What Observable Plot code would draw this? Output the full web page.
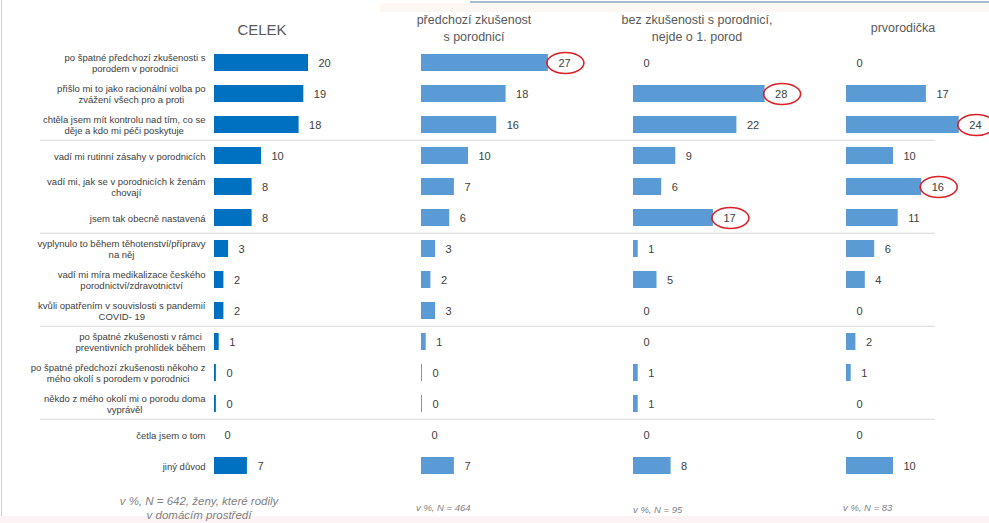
<!DOCTYPE html>
<html><head><meta charset="utf-8">
<script src="https://cdn.jsdelivr.net/npm/d3@7"></script>
<script src="https://cdn.jsdelivr.net/npm/@observablehq/plot@0.6"></script>
<style>
body{margin:0;background:#fff;width:989px;height:523px;overflow:hidden;position:relative;font-family:"Liberation Sans",Arial,sans-serif;}
.hdr{position:absolute;color:#595959;text-align:center;white-space:pre-line;}
.panel{position:absolute;top:44px;}
.note{position:absolute;font-style:italic;color:#7f7f7f;font-size:9.5px;line-height:13px;white-space:pre-line;}
.deco{position:absolute;}
</style></head><body>
<script>
// ---- data ----
const categories = [
  "po špatné předchozí zkušenosti s\nporodem v porodnici",
  "přišlo mi to jako racionální volba po\nzvážení všech pro a proti",
  "chtěla jsem mít kontrolu nad tím, co se\nděje a kdo mi péči poskytuje",
  "vadí mi rutinní zásahy v porodnicích",
  "vadí mi, jak se v porodnicích k ženám\nchovají",
  "jsem tak obecně nastavená",
  "vyplynulo to během těhotenství/přípravy\nna něj",
  "vadí mi míra medikalizace českého\nporodnictví/zdravotnictví",
  "kvůli opatřením v souvislosti s pandemií\nCOVID- 19",
  "po špatné zkušenosti v rámci\npreventivních prohlídek během",
  "po špatné předchozí zkušenosti někoho z\nmého okolí s porodem v porodnici",
  "někdo z mého okolí mi o porodu doma\nvyprávěl",
  "četla jsem o tom",
  "jiný důvod"
];
const groupTitles = ["CELEK", "předchozí zkušenost\ns porodnicí", "bez zkušenosti s porodnicí,\nnejde o 1. porod", "prvorodička"];
const celek         = [20, 19, 18, 10, 8, 8, 3, 2, 2, 1, 0.4, 0.4, 0, 7];
const predchozi     = [27, 18, 16, 10, 7, 6, 3, 2, 3, 1, 0.2, 0.2, 0, 7];
const bezZkusenosti = [0, 28, 22, 9, 6, 17, 1, 5, 0, 0, 1, 1, 0, 8];
const prvorodicka   = [0, 17, 24, 10, 16, 11, 6, 4, 0, 2, 1, 0, 0, 10];
const seriesList = [celek, predchozi, bezZkusenosti, prvorodicka];
// circled values: [group index, category index]
const highlighted = [[1, 0], [2, 1], [2, 5], [3, 2], [3, 4]];
// category index that starts a new block (separator drawn above it)
const groupBreaks = [3, 6, 9, 12];
const notes = ["v %, N = 642, ženy, které rodily\nv domácím prostředí", "v %, N = 464", "v %, N = 95", "v %, N = 83"];

// ---- layout / style ----
const pxPerUnit = 4.7;
const plotHeight = 441;
const step = plotHeight / categories.length;
const panels = [
  {left: 0,   width: 400, ml: 214, fill: "#0070C0", lineL: 174, lineR: 0},
  {left: 400, width: 211, ml: 21,  fill: "#5B9BD5", lineL: 21,  lineR: 0},
  {left: 611, width: 213, ml: 22,  fill: "#5B9BD5", lineL: 22,  lineR: 0},
  {left: 824, width: 165, ml: 22,  fill: "#5B9BD5", lineL: 22,  lineR: 54}
];
const headerPos = [
  {left: 182, top: 21, width: 160, size: 15, lh: 18},
  {left: 394, top: 12, width: 160, size: 12.5, lh: 17},
  {left: 597, top: 12, width: 200, size: 12.5, lh: 17},
  {left: 833, top: 20, width: 140, size: 12.5, lh: 17}
];
const notePos = [
  {left: 99,  top: 495, width: 200, align: "center", size: 11.5, lh: 13.5},
  {left: 416, top: 501, width: 120, align: "left", size: 9.5, lh: 13},
  {left: 633, top: 503, width: 120, align: "left", size: 9.5, lh: 13},
  {left: 843, top: 501, width: 120, align: "left", size: 9.5, lh: 13}
];

const ellipse = {
  draw(ctx) {
    const rx = 18.5, ry = 10.5, k = 0.5523;
    ctx.moveTo(rx, 0);
    ctx.bezierCurveTo(rx, ry * k, rx * k, ry, 0, ry);
    ctx.bezierCurveTo(-rx * k, ry, -rx, ry * k, -rx, 0);
    ctx.bezierCurveTo(-rx, -ry * k, -rx * k, -ry, 0, -ry);
    ctx.bezierCurveTo(rx * k, -ry, rx, -ry * k, rx, 0);
    ctx.closePath();
  }
};

// decorations of the slide edges
function deco(css) { const d = document.createElement("div"); d.className = "deco"; d.style.cssText = css; document.body.appendChild(d); }
deco("left:1px;top:0;width:1px;height:523px;background:#d0d0d0;");
deco("left:380px;top:3px;width:609px;height:9px;background:#fdf7f4;");
deco("left:470px;top:1px;width:519px;height:2px;background:#a9bccf;");
deco("left:0;top:516px;width:989px;height:7px;background:#fdf3f5;");

panels.forEach((p, gi) => {
  const values = seriesList[gi];
  const rows = categories.map((c, i) => ({category: c, value: values[i]}));
  const circ = highlighted.filter(h => h[0] === gi).map(h => rows[h[1]]);
  const seps = groupBreaks.map(i => ({category: categories[i]}));
  const innerW = p.width - p.ml;
  const marks = [
    Plot.ruleY(seps, {y: "category", dy: -step / 2, stroke: "#d9d9d9", strokeWidth: 1, insetLeft: -p.lineL, insetRight: p.lineR}),
    Plot.barX(rows, {x: "value", y: "category", fill: p.fill}),
    Plot.text(rows, {x: "value", y: "category", text: d => String(Math.round(d.value)), dx: 10, textAnchor: "start", fill: "#404040", fontSize: 11}),
    Plot.dot(circ, {x: "value", y: "category", dx: 17, symbol: ellipse, r: 10, fill: "none", stroke: "#dd1f26", strokeWidth: 1.6})
  ];
  if (gi === 0) marks.push(Plot.axisY({tickSize: 0, tickPadding: 9, fontSize: 9.5, lineHeight: 1.15, fill: "#404040", label: null}));
  const chart = Plot.plot({
    width: p.width,
    height: plotHeight,
    marginLeft: p.ml,
    marginRight: 0,
    marginTop: 0,
    marginBottom: 0,
    x: {domain: [0, innerW / pxPerUnit], axis: null},
    y: {domain: categories, paddingInner: 0.45, paddingOuter: 0.225, axis: null},
    style: {fontFamily: "'Liberation Sans', Arial, sans-serif", fontSize: "11px", color: "#404040", background: "transparent", overflow: "visible"},
    marks
  });
  const wrap = document.createElement("div");
  wrap.className = "panel";
  wrap.style.left = p.left + "px";
  wrap.appendChild(chart);
  document.body.appendChild(wrap);

  // centre the lines of each multi-line tick label inside a right-aligned block
  if (gi === 0) {
    let labels = chart.querySelectorAll('g[aria-label="y-axis tick label"] text');
    if (!labels.length) labels = Array.from(chart.querySelectorAll("text")).filter(t => categories.includes(t.textContent) || t.querySelectorAll("tspan").length > 1);
    labels.forEach(t => {
      const spans = t.querySelectorAll("tspan");
      let w = 0;
      if (spans.length) spans.forEach(s => { w = Math.max(w, s.getComputedTextLength()); });
      else w = t.getComputedTextLength();
      t.setAttribute("text-anchor", "middle");
      const tr = t.getAttribute("transform") || "";
      t.setAttribute("transform", `${tr} translate(${-w / 2},0)`);
    });
  }

  const h = headerPos[gi];
  const hd = document.createElement("div");
  hd.className = "hdr";
  hd.style.cssText = `left:${h.left}px;top:${h.top}px;width:${h.width}px;font-size:${h.size}px;line-height:${h.lh}px;`;
  hd.textContent = groupTitles[gi];
  document.body.appendChild(hd);

  const n = notePos[gi];
  const nd = document.createElement("div");
  nd.className = "note";
  nd.style.cssText = `left:${n.left}px;top:${n.top}px;width:${n.width}px;text-align:${n.align};font-size:${n.size}px;line-height:${n.lh}px;`;
  nd.textContent = notes[gi];
  document.body.appendChild(nd);
});
</script>
</body></html>
